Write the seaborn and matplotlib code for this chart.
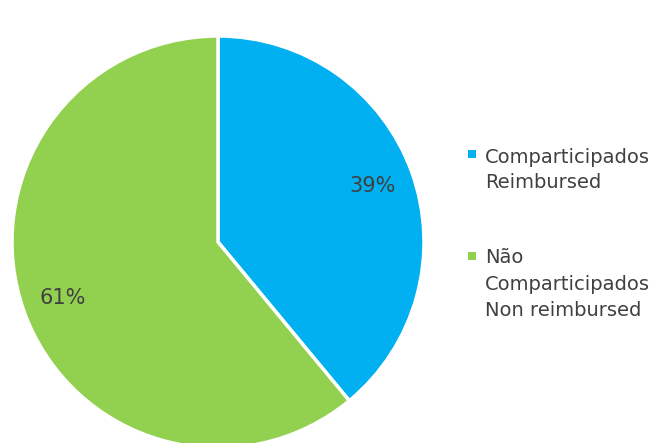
import matplotlib
matplotlib.use("Agg")
import matplotlib.pyplot as plt
import seaborn as sns
from matplotlib.patches import Rectangle

sns.set_theme(style="white")
plt.rcParams['font.family'] = ['DejaVu Sans']

categories = ["Comparticipados\nReimbursed", "Não\nComparticipados\nNon reimbursed"]
values = [39, 61]
colors = ["#00B0F0", "#92D050"]

W, H = 662, 443
fig = plt.figure(figsize=(W / 100, H / 100), dpi=100)
fig.patch.set_facecolor("white")
# pie box in pixels: left 12, top 36, size 412
ax = fig.add_axes([12 / W, (H - 448) / H, 412 / W, 412 / H])
wedges, texts, autotexts = ax.pie(
    values, colors=colors, startangle=90, counterclock=False,
    autopct=lambda p: f"{p:.0f}%", pctdistance=0.8, radius=1,
    wedgeprops=dict(edgecolor="white", linewidth=2.5),
    textprops=dict(color="#404040", fontsize=15),
)
ax.set_xlim(-1, 1)
ax.set_ylim(-1, 1)
ax.axis("off")

# legend drawn manually (marker aligned with first line)
legend_tops = [148, 248]
square_tops = [150, 252]
spacings = [1.38, 1.5]
for lab, col, ty, sy, ls in zip(categories, colors, legend_tops, square_tops, spacings):
    fig.add_artist(Rectangle((468 / W, 1 - (sy + 8) / H), 8 / W, 8 / H,
                             transform=fig.transFigure, facecolor=col,
                             edgecolor="none"))
    fig.text(485 / W, 1 - ty / H, lab, ha="left", va="top", fontsize=14,
             color="#404040", linespacing=ls)
fig.savefig("out.png", dpi=100)
